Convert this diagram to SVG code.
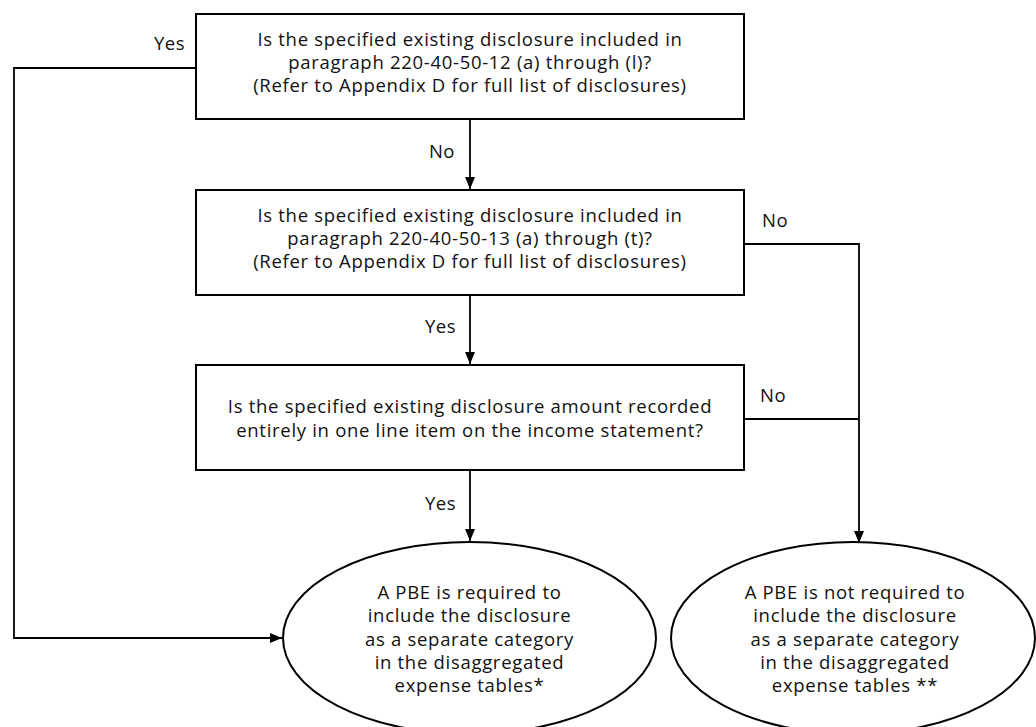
<svg xmlns="http://www.w3.org/2000/svg" width="1036" height="727" viewBox="0 0 1036 727">
<style>
.box{fill:#fff;stroke:#000;stroke-width:2}
.ell{fill:#fff;stroke:#000;stroke-width:2}
.t{font-family:"Open Sans","Liberation Sans",Arial,sans-serif;font-size:18.5px;letter-spacing:0.7px;fill:#111;text-anchor:middle}
.lbl{font-family:"Open Sans","Liberation Sans",Arial,sans-serif;font-size:18.5px;letter-spacing:0.5px;fill:#111}
.c{fill:none;stroke:#000;stroke-width:1.8}
</style>
<defs>
<marker id="ah" markerWidth="12" markerHeight="12" viewBox="0 0 12 12" refX="12" refY="6" orient="auto" markerUnits="userSpaceOnUse">
<path d="M0,1 L12,6 L0,11 Z" fill="#000"/>
</marker>
</defs>
<g id="connectors">
<path class="c" d="M196,68 H14 V638 H282" marker-end="url(#ah)"/>
<path class="c" d="M470,119 V189" marker-end="url(#ah)"/>
<path class="c" d="M470,295 V364" marker-end="url(#ah)"/>
<path class="c" d="M470,470 V541" marker-end="url(#ah)"/>
<path class="c" d="M744,244 H859 V543" marker-end="url(#ah)"/>
<path class="c" d="M744,419 H859"/>
<text class="lbl" x="185" y="50" text-anchor="end">Yes</text>
<text class="lbl" x="455" y="158" text-anchor="end">No</text>
<text class="lbl" x="762" y="227">No</text>
<text class="lbl" x="456" y="333" text-anchor="end">Yes</text>
<text class="lbl" x="760" y="402">No</text>
<text class="lbl" x="456" y="510" text-anchor="end">Yes</text>
</g>
<g id="q1">
<rect class="box" x="196" y="14" width="548" height="105"/>
<text class="t" x="470" y="46">Is the specified existing disclosure included in</text>
<text class="t" x="470" y="69">paragraph 220-40-50-12 (a) through (l)?</text>
<text class="t" x="470" y="92">(Refer to Appendix D for full list of disclosures)</text>
</g>
<g id="q2">
<rect class="box" x="196" y="190" width="548" height="105"/>
<text class="t" x="470" y="222">Is the specified existing disclosure included in</text>
<text class="t" x="470" y="245">paragraph 220-40-50-13 (a) through (t)?</text>
<text class="t" x="470" y="268">(Refer to Appendix D for full list of disclosures)</text>
</g>
<g id="q3">
<rect class="box" x="196" y="365" width="548" height="105"/>
<text class="t" x="470" y="413">Is the specified existing disclosure amount recorded</text>
<text class="t" x="470" y="437">entirely in one line item on the income statement?</text>
</g>
<g id="r1">
<ellipse class="ell" cx="469.5" cy="638" rx="186.5" ry="96"/>
<text class="t" x="469.5" y="599">A PBE is required to</text>
<text class="t" x="469.5" y="622">include the disclosure</text>
<text class="t" x="469.5" y="646">as a separate category</text>
<text class="t" x="469.5" y="669">in the disaggregated</text>
<text class="t" x="469.5" y="692">expense tables*</text>
</g>
<g id="r2">
<ellipse class="ell" cx="853" cy="638" rx="182" ry="96"/>
<text class="t" x="855" y="599">A PBE is not required to</text>
<text class="t" x="855" y="622">include the disclosure</text>
<text class="t" x="855" y="646">as a separate category</text>
<text class="t" x="855" y="669">in the disaggregated</text>
<text class="t" x="855" y="692">expense tables **</text>
</g>
</svg>
